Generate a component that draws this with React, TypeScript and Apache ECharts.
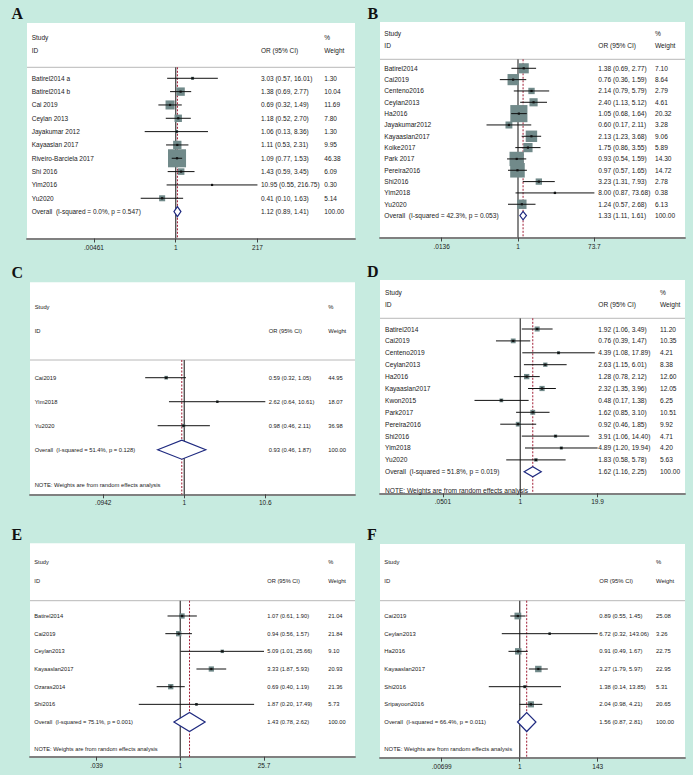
import React, { useEffect, useRef } from 'react';
import * as echarts from 'echarts';

// ---------- Panel A ----------
const aStudies = ['Batirel2014 a', 'Batirel2014 b', 'Cai 2019', 'Ceylan 2013', 'Jayakumar 2012', 'Kayaaslan 2017', 'Riveiro-Barciela 2017', 'Shi 2016', 'Yim2016', 'Yu2020'];
const aOr = [3.03, 1.38, 0.69, 1.18, 1.06, 1.11, 1.09, 1.43, 10.95, 0.41];
const aLo = [0.57, 0.69, 0.32, 0.52, 0.13, 0.53, 0.77, 0.59, 0.55, 0.10];
const aHi = [16.01, 2.77, 1.49, 2.70, 8.36, 2.31, 1.53, 3.45, 216.75, 1.63];
const aW = [1.30, 10.04, 11.69, 7.80, 1.30, 9.95, 46.38, 6.09, 0.30, 5.14];
const aOverall = [1.12, 0.89, 1.41];
const aOverallLabel = 'Overall  (I-squared = 0.0%, p = 0.547)';
const aTicks = [0.00461, 1, 217];
const aTickLabels = ['.00461', '1', '217'];

// ---------- Panel B ----------
const bStudies = ['Batirel2014', 'Cai2019', 'Centeno2016', 'Ceylan2013', 'Ha2016', 'Jayakumar2012', 'Kayaaslan2017', 'Koike2017', 'Park 2017', 'Pereira2016', 'Shi2016', 'Yim2018', 'Yu2020'];
const bOr = [1.38, 0.76, 2.14, 2.40, 1.05, 0.60, 2.13, 1.75, 0.93, 0.97, 3.23, 8.00, 1.24];
const bLo = [0.69, 0.36, 0.79, 1.13, 0.68, 0.17, 1.23, 0.86, 0.54, 0.57, 1.31, 0.87, 0.57];
const bHi = [2.77, 1.59, 5.79, 5.12, 1.64, 2.11, 3.68, 3.55, 1.59, 1.65, 7.93, 73.68, 2.68];
const bW = [7.10, 8.64, 2.79, 4.61, 20.32, 3.28, 9.06, 5.89, 14.30, 14.72, 2.78, 0.38, 6.13];
const bOverall = [1.33, 1.11, 1.61];
const bOverallLabel = 'Overall  (I-squared = 42.3%, p = 0.053)';
const bTicks = [0.0136, 1, 73.7];
const bTickLabels = ['.0136', '1', '73.7'];

// ---------- Panel C ----------
const cStudies = ['Cai2019', 'Yim2018', 'Yu2020'];
const cOr = [0.59, 2.62, 0.98];
const cLo = [0.32, 0.64, 0.46];
const cHi = [1.05, 10.61, 2.11];
const cW = [44.95, 18.07, 36.98];
const cOverall = [0.93, 0.46, 1.87];
const cOverallLabel = 'Overall  (I-squared = 51.4%, p = 0.128)';
const cTicks = [0.0942, 1, 10.6];
const cTickLabels = ['.0942', '1', '10.6'];

// ---------- Panel D ----------
const dStudies = ['Batirel2014', 'Cai2019', 'Centeno2019', 'Ceylan2013', 'Ha2016', 'Kayaaslan2017', 'Kwon2015', 'Park2017', 'Pereira2016', 'Shi2016', 'Yim2018', 'Yu2020'];
const dOr = [1.92, 0.76, 4.39, 2.63, 1.28, 2.32, 0.48, 1.62, 0.92, 3.91, 4.89, 1.83];
const dLo = [1.06, 0.39, 1.08, 1.15, 0.78, 1.35, 0.17, 0.85, 0.46, 1.06, 1.20, 0.58];
const dHi = [3.49, 1.47, 17.89, 6.01, 2.12, 3.96, 1.38, 3.10, 1.85, 14.40, 19.94, 5.78];
const dW = [11.20, 10.35, 4.21, 8.38, 12.60, 12.05, 6.25, 10.51, 9.92, 4.71, 4.20, 5.63];
const dOverall = [1.62, 1.16, 2.25];
const dOverallLabel = 'Overall  (I-squared = 51.8%, p = 0.019)';
const dTicks = [0.0501, 1, 19.9];
const dTickLabels = ['.0501', '1', '19.9'];

// ---------- Panel E ----------
const eStudies = ['Batirel2014', 'Cai2019', 'Ceylan2013', 'Kayaaslan2017', 'Ozaras2014', 'Shi2016'];
const eOr = [1.07, 0.94, 5.09, 3.33, 0.69, 1.87];
const eLo = [0.61, 0.56, 1.01, 1.87, 0.40, 0.20];
const eHi = [1.90, 1.57, 25.66, 5.93, 1.19, 17.49];
const eW = [21.04, 21.84, 9.10, 20.93, 21.36, 5.73];
const eOverall = [1.43, 0.78, 2.62];
const eOverallLabel = 'Overall  (I-squared = 75.1%, p = 0.001)';
const eTicks = [0.039, 1, 25.7];
const eTickLabels = ['.039', '1', '25.7'];

// ---------- Panel F ----------
const fStudies = ['Cai2019', 'Ceylan2013', 'Ha2016', 'Kayaaslan2017', 'Shi2016', 'Sripayoon2016'];
const fOr = [0.89, 6.72, 0.91, 3.27, 1.38, 2.04];
const fLo = [0.55, 0.32, 0.49, 1.79, 0.14, 0.98];
const fHi = [1.45, 143.06, 1.67, 5.97, 13.85, 4.21];
const fW = [25.08, 3.26, 22.75, 22.95, 5.31, 20.65];
const fOverall = [1.56, 0.87, 2.81];
const fOverallLabel = 'Overall  (I-squared = 66.4%, p = 0.011)';
const fTicks = [0.00699, 1, 143];
const fTickLabels = ['.00699', '1', '143'];

const headerLabels = ['Study', 'ID', 'OR (95% CI)', '%', 'Weight'];
const noteText = 'NOTE: Weights are from random effects analysis';

const panels = [
  { letter: 'A', studies: aStudies, or: aOr, lo: aLo, hi: aHi, w: aW, overall: aOverall, overallLabel: aOverallLabel, ticks: aTicks, tickLabels: aTickLabels, note: false },
  { letter: 'B', studies: bStudies, or: bOr, lo: bLo, hi: bHi, w: bW, overall: bOverall, overallLabel: bOverallLabel, ticks: bTicks, tickLabels: bTickLabels, note: false },
  { letter: 'C', studies: cStudies, or: cOr, lo: cLo, hi: cHi, w: cW, overall: cOverall, overallLabel: cOverallLabel, ticks: cTicks, tickLabels: cTickLabels, note: true },
  { letter: 'D', studies: dStudies, or: dOr, lo: dLo, hi: dHi, w: dW, overall: dOverall, overallLabel: dOverallLabel, ticks: dTicks, tickLabels: dTickLabels, note: true },
  { letter: 'E', studies: eStudies, or: eOr, lo: eLo, hi: eHi, w: eW, overall: eOverall, overallLabel: eOverallLabel, ticks: eTicks, tickLabels: eTickLabels, note: true },
  { letter: 'F', studies: fStudies, or: fOr, lo: fLo, hi: fHi, w: fW, overall: fOverall, overallLabel: fOverallLabel, ticks: fTicks, tickLabels: fTickLabels, note: true },
];

// Layout (pixels / axis ranges in log10 units and row units)
const layouts = [
  { left: 27, top: 23, right: 355, bottom: 238.5, xMin: -4.249, xMax: 5.123, yMin: -4.148, yMax: 12.018, nameX: 31.7, orX: 261, wX: 324.3, studyRow: -3.076, idRow: -2.048, sepRow: -0.825, noteRow: 0, font: 6.5, k: 2.65, dh: 5, lx: 11.5, ly: 14.5 },
  { left: 380, top: 22, right: 685, bottom: 237.5, xMin: -3.374, xMax: 4.083, yMin: -4.086, yMax: 14.934, nameX: 384.3, orX: 598.3, wX: 655, studyRow: -3.089, idRow: -2.056, sepRow: -0.794, noteRow: 0, font: 6.6, k: 3.8, dh: 4.2, lx: 367.5, ly: 14.5 },
  { left: 30, top: 282.3, right: 355, bottom: 494.3, xMin: -1.953, xMax: 2.161, yMin: -3.975, yMax: 4.858, nameX: 34.7, orX: 268.7, wX: 328.3, studyRow: -2.933, idRow: -1.946, sepRow: -0.7375, noteRow: 4.47, font: 5.8, k: 0.55, dh: 9.5, lx: 11.5, ly: 273 },
  { left: 380, top: 280, right: 685, bottom: 493.3, xMin: -2.358, xMax: 2.768, yMin: -4.118, yMax: 13.807, nameX: 385, orX: 598.3, wX: 660, studyRow: -3.05, idRow: -2.076, sepRow: -0.9, noteRow: 13.61, font: 6.6, k: 1.5, dh: 5, lx: 367, ly: 272.5 },
  { left: 30, top: 543.3, right: 355, bottom: 756.7, xMin: -2.53, xMax: 2.941, yMin: -4.114, yMax: 7.963, nameX: 34.3, orX: 267.3, wX: 328.3, studyRow: -3.039, idRow: -1.998, sepRow: -0.866, noteRow: 7.527, font: 5.7, k: 1.15, dh: 9.5, lx: 11.5, ly: 535.3 },
  { left: 380, top: 544, right: 685, bottom: 757.7, xMin: -3.859, xMax: 4.566, yMin: -4.075, yMax: 8.019, nameX: 384.3, orX: 599.3, wX: 656, studyRow: -3.039, idRow: -1.998, sepRow: -0.866, noteRow: 7.527, font: 5.9, k: 1.35, dh: 9.5, lx: 367, ly: 535.3 },
];

const FONT = '"Liberation Sans", Arial, Helvetica, sans-serif';
const SQ = '#718a8a';
const INK = '#1a1a1a';

function txt(x: number, y: number, s: string, size: number, color = INK): any {
  return {
    type: 'text',
    silent: true,
    style: { x, y, text: s, fill: color, fontSize: size, fontFamily: FONT, align: 'left', verticalAlign: 'middle', textAlign: 'left', textVerticalAlign: 'middle' },
  };
}

const fmt = (v: number) => v.toFixed(2);

function buildOption(): any {
  const grids: any[] = [];
  const xAxes: any[] = [];
  const yAxes: any[] = [];
  const series: any[] = [];
  const graphics: any[] = [];

  panels.forEach((p, gi) => {
    const L = layouts[gi];
    const n = p.studies.length;
    grids.push({
      left: L.left, top: L.top, width: L.right - L.left, height: L.bottom - L.top,
      show: true, backgroundColor: '#ffffff', borderWidth: 0, containLabel: false, outerBoundsMode: 'none',
    });
    const tickVals = p.ticks.map((t) => Math.log10(t));
    xAxes.push({
      gridIndex: gi, type: 'value', min: L.xMin, max: L.xMax, position: 'bottom',
      axisLine: { show: true, onZero: false, lineStyle: { color: '#808080', width: 2 } },
      axisTick: { show: true, customValues: tickVals, length: 4, lineStyle: { color: '#444', width: 1 } },
      axisLabel: {
        show: true, customValues: tickVals, margin: 5, fontSize: 6.5, color: INK, fontFamily: FONT,
        formatter: (v: number) => {
          let best = 0;
          tickVals.forEach((t, j) => { if (Math.abs(t - v) < Math.abs(tickVals[best] - v)) best = j; });
          return p.tickLabels[best];
        },
      },
      splitLine: { show: false },
    });
    yAxes.push({ gridIndex: gi, type: 'value', inverse: true, min: L.yMin, max: L.yMax, show: false, splitLine: { show: false } });

    // frame: header, separator, reference lines, note
    series.push({
      type: 'custom', xAxisIndex: gi, yAxisIndex: gi, clip: false, z: 2, silent: true,
      data: [[0, 0]],
      renderItem: (params: any, api: any) => {
        const sL = api.coord([L.xMin, L.sepRow]);
        const sR = api.coord([L.xMax, L.sepRow]);
        const r1t = api.coord([0, L.sepRow]);
        const r1b = api.coord([0, L.yMax]);
        const ov = Math.log10(p.overall[0]);
        const r2t = api.coord([ov, L.sepRow]);
        const r2b = api.coord([ov, L.yMax]);
        const ys = api.coord([L.xMin, L.studyRow])[1];
        const yi = api.coord([L.xMin, L.idRow])[1];
        const children: any[] = [
          { type: 'line', shape: { x1: sL[0], y1: sL[1], x2: sR[0], y2: sR[1] }, style: { stroke: '#b8b8b8', lineWidth: 1 } },
          { type: 'line', shape: { x1: r1t[0], y1: r1t[1], x2: r1b[0], y2: r1b[1] }, style: { stroke: '#555555', lineWidth: 1.4 } },
          { type: 'line', shape: { x1: r2t[0], y1: r2t[1], x2: r2b[0], y2: r2b[1] }, style: { stroke: '#a01c34', lineWidth: 1, lineDash: [2, 1.5] } },
          txt(L.nameX, ys, headerLabels[0], L.font),
          txt(L.nameX, yi, headerLabels[1], L.font),
          txt(L.orX, yi, headerLabels[2], L.font),
          txt(L.wX, ys, headerLabels[3], L.font),
          txt(L.wX, yi, headerLabels[4], L.font),
        ];
        if (p.note) {
          const yn = api.coord([L.xMin, L.noteRow])[1];
          children.push(txt(L.nameX, yn, noteText, L.font));
        }
        return { type: 'group', children };
      },
    });

    // studies: CI lines and weight boxes
    series.push({
      type: 'custom', xAxisIndex: gi, yAxisIndex: gi, clip: false, z: 3, silent: true,
      encode: { x: 0, y: 1 },
      data: p.studies.map((_, i) => [Math.log10(p.or[i]), i, Math.log10(p.lo[i]), Math.log10(p.hi[i]), p.w[i]]),
      renderItem: (params: any, api: any) => {
        const y = api.value(1);
        const c = api.coord([api.value(0), y]);
        const l = api.coord([api.value(2), y]);
        const h = api.coord([api.value(3), y]);
        const side = L.k * Math.sqrt(api.value(4));
        return {
          type: 'group',
          children: [
            { type: 'rect', shape: { x: c[0] - side / 2, y: c[1] - side / 2, width: side, height: side }, style: { fill: SQ } },
            { type: 'line', shape: { x1: l[0], y1: l[1], x2: h[0], y2: h[1] }, style: { stroke: '#111', lineWidth: 1 } },
            { type: 'rect', shape: { x: c[0] - 1.1, y: c[1] - 1.1, width: 2.2, height: 2.2 }, style: { fill: '#111' } },
          ],
        };
      },
    });

    // overall diamond
    series.push({
      type: 'custom', xAxisIndex: gi, yAxisIndex: gi, clip: false, z: 4, silent: true,
      encode: { x: 0, y: 1 },
      data: [[Math.log10(p.overall[0]), n, Math.log10(p.overall[1]), Math.log10(p.overall[2])]],
      renderItem: (params: any, api: any) => {
        const y = api.value(1);
        const c = api.coord([api.value(0), y]);
        const l = api.coord([api.value(2), y]);
        const h = api.coord([api.value(3), y]);
        return {
          type: 'polygon',
          shape: { points: [[l[0], l[1]], [c[0], c[1] - L.dh], [h[0], h[1]], [c[0], c[1] + L.dh]] },
          style: { fill: '#ffffff', stroke: '#1f2a80', lineWidth: 1.2 },
        };
      },
    });

    // table text
    const rows = p.studies.map((_, i) => [L.xMin, i]).concat([[L.xMin, n]]);
    series.push({
      type: 'custom', xAxisIndex: gi, yAxisIndex: gi, clip: false, z: 5, silent: true,
      encode: { x: 0, y: 1 },
      data: rows,
      renderItem: (params: any, api: any) => {
        const i = params.dataIndex;
        const y = api.coord([api.value(0), api.value(1)])[1];
        let name: string, orT: string, wT: string;
        if (i < n) {
          name = p.studies[i];
          orT = `${fmt(p.or[i])} (${fmt(p.lo[i])}, ${fmt(p.hi[i])})`;
          wT = fmt(p.w[i]);
        } else {
          name = p.overallLabel;
          orT = `${fmt(p.overall[0])} (${fmt(p.overall[1])}, ${fmt(p.overall[2])})`;
          wT = '100.00';
        }
        return {
          type: 'group',
          children: [txt(L.nameX, y, name, L.font), txt(L.orX, y, orT, L.font), txt(L.wX, y, wT, L.font)],
        };
      },
    });

    graphics.push({
      type: 'text', left: L.lx, top: L.ly - 9, silent: true,
      style: { text: p.letter, fill: '#111', fontSize: 16, fontWeight: 'bold', fontFamily: '"Liberation Serif", "Times New Roman", serif' },
    });
  });

  return {
    animation: false,
    backgroundColor: '#c7ebe0',
    grid: grids,
    xAxis: xAxes,
    yAxis: yAxes,
    series,
    graphic: graphics,
  };
}

export default function App() {
  const ref = useRef<HTMLDivElement>(null);
  useEffect(() => {
    if (!ref.current) return;
    const chart = echarts.init(ref.current, undefined, { renderer: 'svg' });
    chart.setOption(buildOption());
    return () => chart.dispose();
  }, []);
  return <div ref={ref} style={{ position: 'fixed', left: 0, top: 0, width: 693, height: 775 }} />;
}
